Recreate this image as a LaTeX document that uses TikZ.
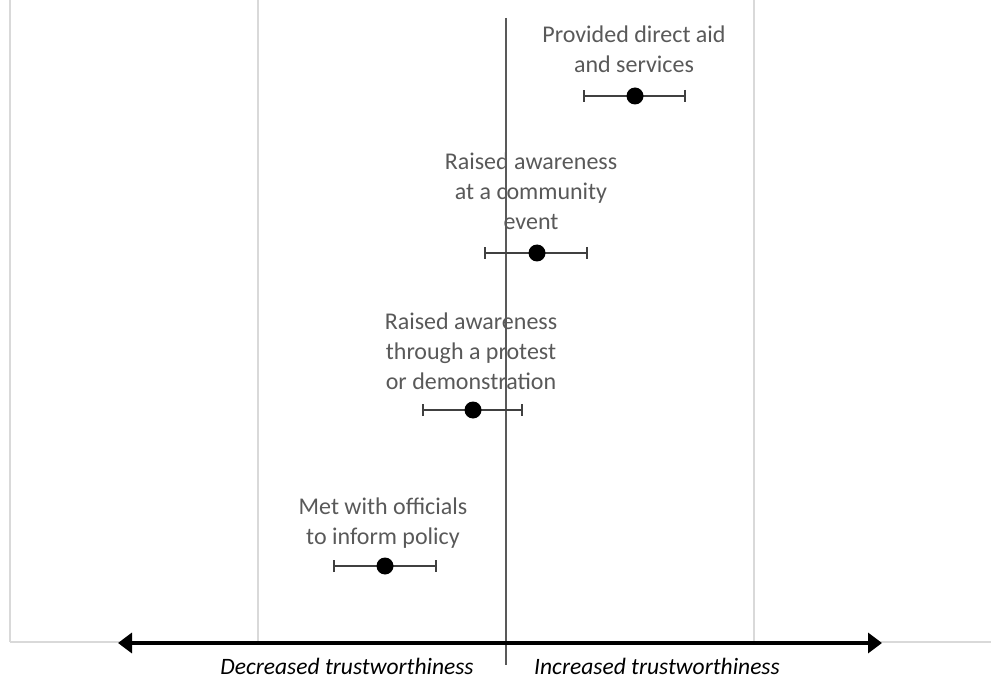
\documentclass[tikz,border=0pt]{standalone}
\usepackage{fontspec}
\setmainfont{Carlito}
\usetikzlibrary{arrows.meta}
\definecolor{txt}{HTML}{595959}
\definecolor{grid}{HTML}{D9D9D9}
\definecolor{bar}{HTML}{404040}
\tikzset{
  x=1pt, y=-1pt,
  gridline/.style={draw=grid, line width=1.2pt},
  lbl/.style={text=txt, font=\fontsize{24}{30}\selectfont, align=center, inner sep=0pt},
  axlbl/.style={text=black, font=\fontsize{23.5}{28}\selectfont\itshape, inner sep=0pt, anchor=base},
  dot/.style={circle, fill=black, minimum size=17pt, inner sep=0pt},
  errbar/.style={draw=bar, line width=1.6pt, {Bar[width=12pt]}-{Bar[width=12pt]}},
}
\begin{document}
\begin{tikzpicture}
\useasboundingbox (0,0) rectangle (991,679);
% grid
\coordinate (g0t) at (10,0); \coordinate (g0b) at (10,642);
\coordinate (g1t) at (258,0); \coordinate (g1b) at (258,642);
\coordinate (g2t) at (754,0); \coordinate (g2b) at (754,642);
\coordinate (bl) at (10,642); \coordinate (br) at (991,642);
\draw[gridline] (g0t) -- (g0b);
\draw[gridline] (g1t) -- (g1b);
\draw[gridline] (g2t) -- (g2b);
\draw[gridline] (bl) -- (br);
% center line
\coordinate (ct) at (506,18); \coordinate (cb) at (506,665);
\draw[draw=txt, line width=1.5pt] (ct) -- (cb);
% axis arrow
\coordinate (al) at (118,643); \coordinate (ar) at (882,643);
\draw[line width=3.5pt, {Triangle[length=14pt,width=20pt]}-{Triangle[length=14pt,width=20pt]}] (al) -- (ar);
\node[axlbl] (dec) at (347,674) {Decreased trustworthiness};
\node[axlbl] (inc) at (657,674) {Increased trustworthiness};
% items
\node[lbl, anchor=base] (t1) at (634,73) {Provided direct aid\\and services};
\coordinate (e1l) at (583,96); \coordinate (e1r) at (686,96);
\draw[errbar] (e1l) -- (e1r);
\node[dot] (d1) at (635,96) {};

\node[lbl, anchor=base] (t2) at (531,230) {Raised awareness\\at a community\\event};
\coordinate (e2l) at (484,253); \coordinate (e2r) at (588,253);
\draw[errbar] (e2l) -- (e2r);
\node[dot] (d2) at (537,253) {};

\node[lbl, anchor=base] (t3) at (471,389) {Raised awareness\\through a protest\\or demonstration};
\coordinate (e3l) at (422,410); \coordinate (e3r) at (523,410);
\draw[errbar] (e3l) -- (e3r);
\node[dot] (d3) at (473,410) {};

\node[lbl, anchor=base] (t4) at (383,544) {Met with officials\\to inform policy};
\coordinate (e4l) at (333,566); \coordinate (e4r) at (437,566);
\draw[errbar] (e4l) -- (e4r);
\node[dot] (d4) at (385,566) {};
\end{tikzpicture}
\end{document}
